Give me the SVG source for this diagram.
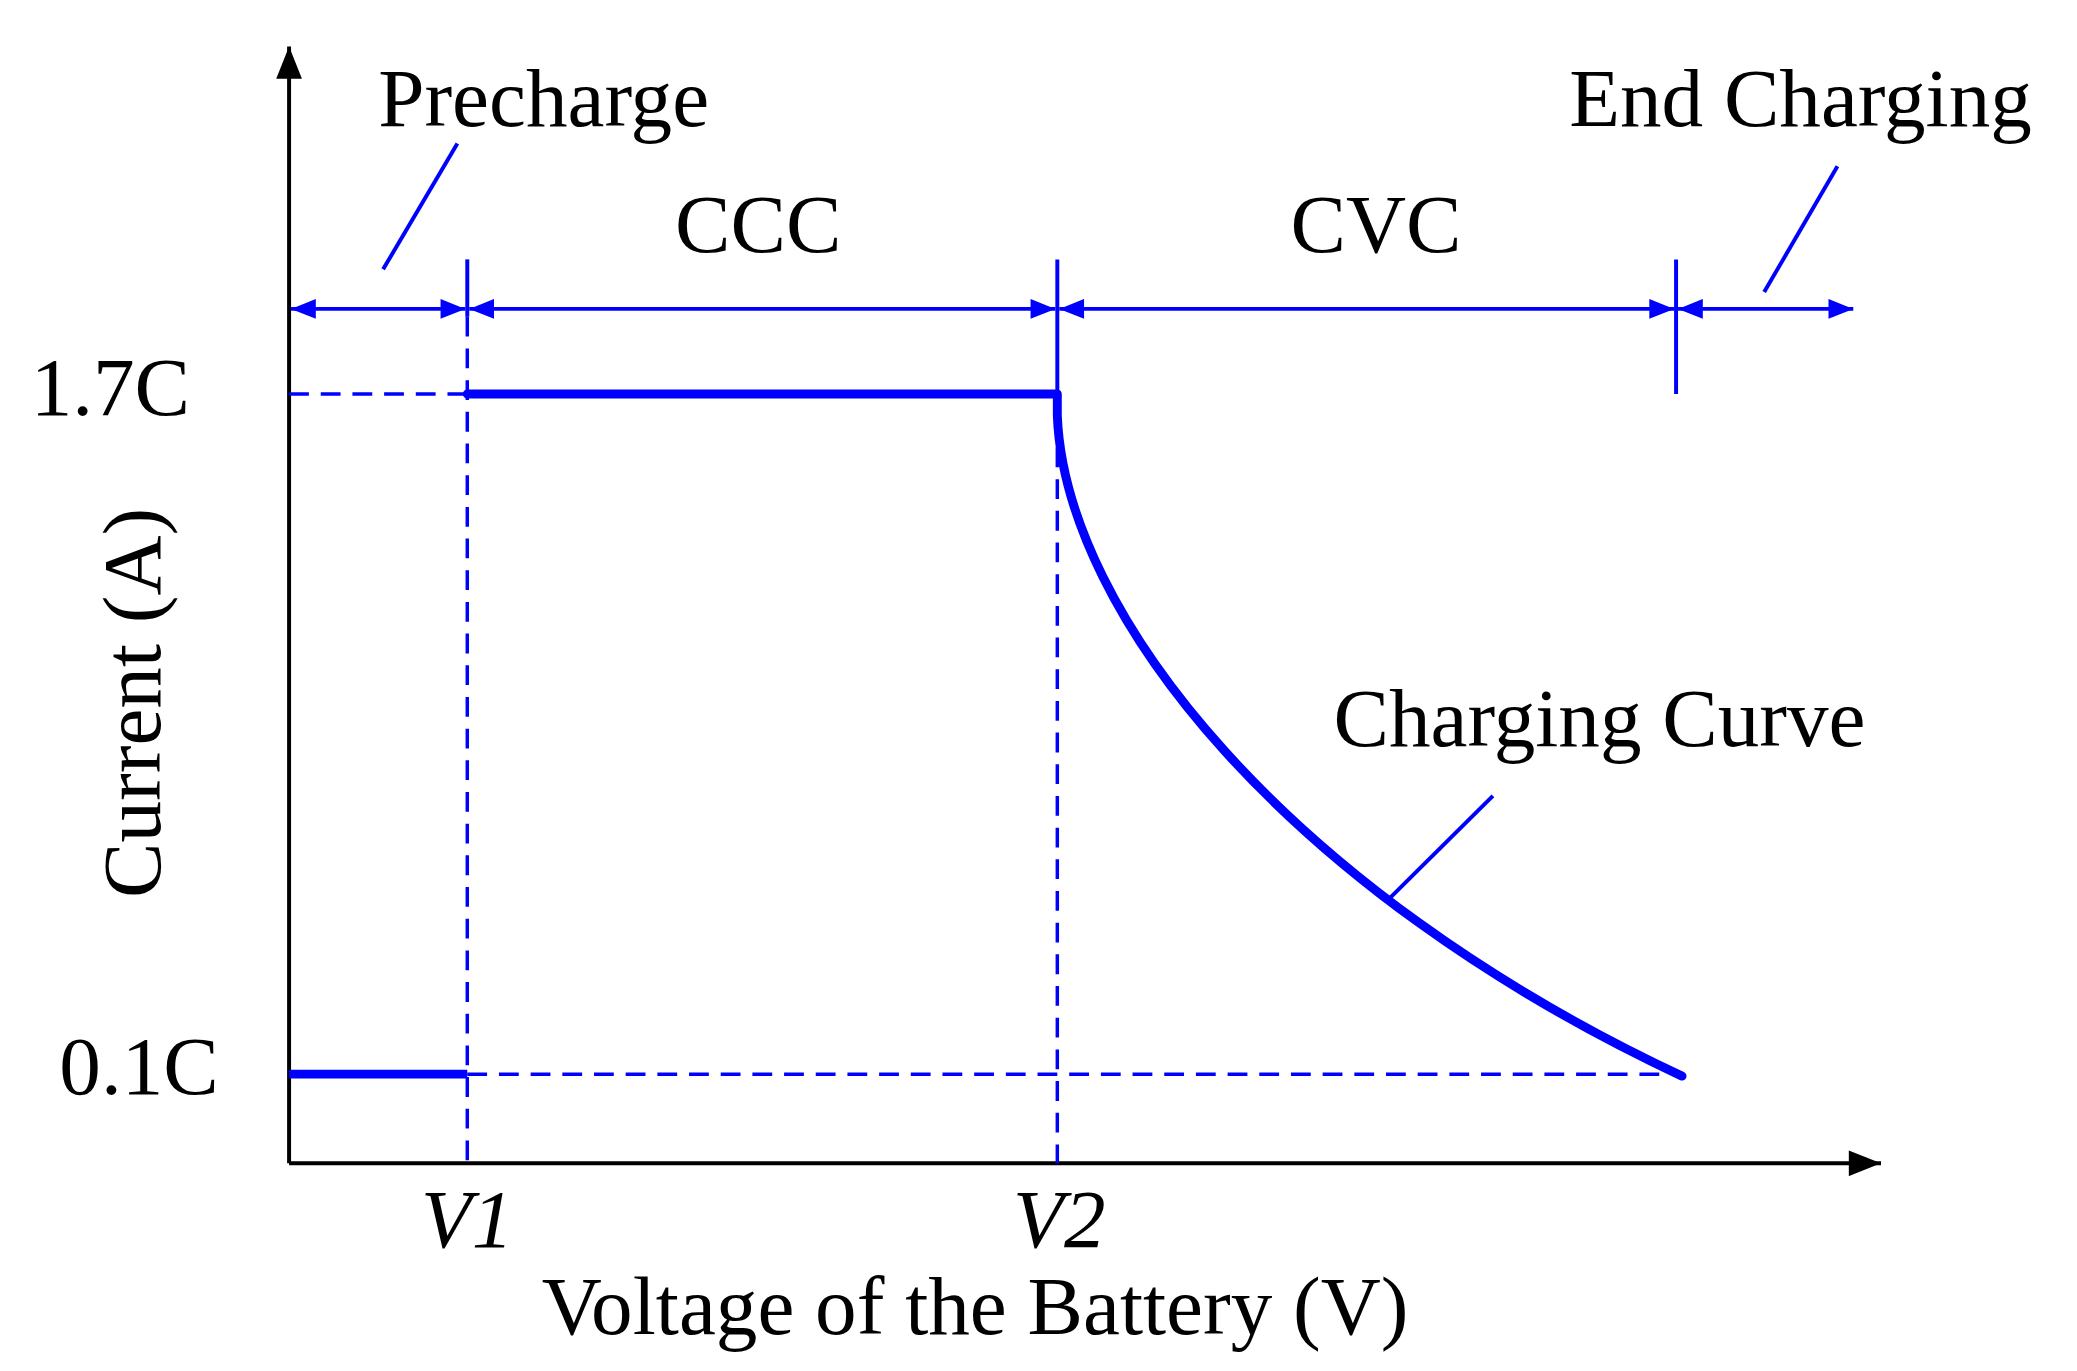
<svg xmlns="http://www.w3.org/2000/svg" width="2077" height="1371" viewBox="0 0 2077 1371">
<style>
text{font-family:"Liberation Serif","Times New Roman",serif;font-size:84px;fill:#000}
.dash{stroke:#0000ff;stroke-width:3.5;stroke-dasharray:20,12;fill:none}
.thick{stroke:#0000ff;stroke-width:9;fill:none}
.ln{stroke:#0000ff;stroke-width:4;fill:none}
</style>
<defs>
<marker id="ab" viewBox="0 0 10 8" markerWidth="26" markerHeight="20" refX="10" refY="4" orient="auto-start-reverse" markerUnits="userSpaceOnUse"><path d="M0,0 L10,4 L0,8z" fill="#0000ff"/></marker>
<marker id="ak" viewBox="0 0 10 8" markerWidth="40" markerHeight="26" refX="10" refY="4" orient="auto" markerUnits="userSpaceOnUse"><path d="M0,0 L10,4 L0,8z" fill="#000"/></marker>
</defs>
<g transform="scale(0.99)">
<g id="axes">
<line x1="292" y1="1175" x2="292" y2="47" stroke="#000" stroke-width="4" marker-end="url(#ak)"/>
<line x1="292" y1="1175" x2="1900" y2="1175" stroke="#000" stroke-width="4" marker-end="url(#ak)"/>
</g>
<g id="connectors">
<line class="dash" x1="292" y1="398" x2="472" y2="398"/>
<line class="dash" x1="472" y1="1085" x2="1692" y2="1085"/>
<line class="dash" x1="472" y1="320" x2="472" y2="1175"/>
<line class="dash" x1="1068" y1="420" x2="1068" y2="1175"/>
<line class="ln" x1="472" y1="262" x2="472" y2="320"/>
<line class="ln" x1="1068" y1="262" x2="1068" y2="400"/>
<line class="ln" x1="1693" y1="262" x2="1693" y2="398"/>
<line class="ln" x1="294" y1="312" x2="470" y2="312" marker-start="url(#ab)" marker-end="url(#ab)"/>
<line class="ln" x1="474" y1="312" x2="1066" y2="312" marker-start="url(#ab)" marker-end="url(#ab)"/>
<line class="ln" x1="1070" y1="312" x2="1691" y2="312" marker-start="url(#ab)" marker-end="url(#ab)"/>
<line class="ln" x1="1695" y1="312" x2="1872" y2="312" marker-start="url(#ab)" marker-end="url(#ab)"/>
<line class="ln" x1="462" y1="145" x2="387" y2="272"/>
<line class="ln" x1="1856" y1="168" x2="1782" y2="295"/>
<line class="ln" x1="1508" y1="804" x2="1400" y2="911"/>
</g>
<g id="curve">
<line class="thick" x1="292" y1="1085" x2="472" y2="1085"/>
<path class="thick" d="M472,398 L1068,398 L1068,420 C1076,620 1300,900 1699,1087" stroke-linecap="round" stroke-linejoin="round"/>
</g>
<g id="labels">
<text x="382" y="127">Precharge</text>
<text x="766" y="255" text-anchor="middle">CCC</text>
<text x="1390" y="255" text-anchor="middle">CVC</text>
<text x="1585" y="127">End Charging</text>
<text x="192" y="419" text-anchor="end">1.7C</text>
<text x="221" y="1105" text-anchor="end">0.1C</text>
<text x="1347" y="754">Charging Curve</text>
<text x="472" y="1260" text-anchor="middle" font-style="italic">V1</text>
<text x="1070" y="1260" text-anchor="middle" font-style="italic">V2</text>
<text x="985" y="1347" text-anchor="middle">Voltage of the Battery (V)</text>
<text x="0" y="0" text-anchor="middle" transform="translate(162,710) rotate(-90)">Current (A)</text>
</g>
</g>
</svg>
